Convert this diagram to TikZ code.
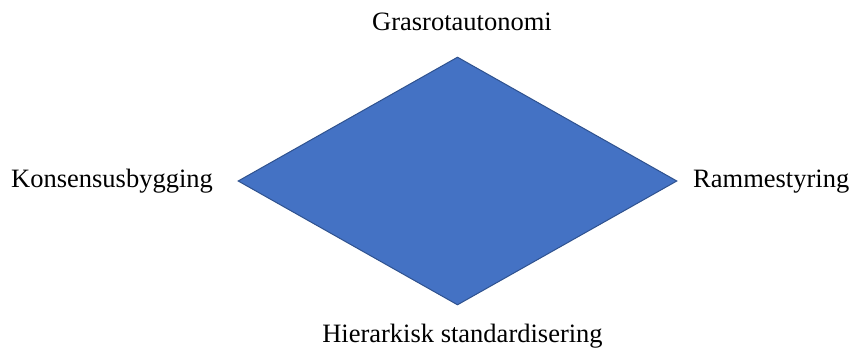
\documentclass[tikz,border=0pt]{standalone}
\usepackage{fontspec}
\setmainfont{Liberation Serif}
\usetikzlibrary{shapes.geometric,positioning}
\definecolor{rombeblue}{RGB}{68,114,196}
\definecolor{rombeedge}{RGB}{47,82,143}

\begin{document}
\begin{tikzpicture}[x=1pt,y=1pt,every node/.style={font=\fontsize{26.5}{30}\selectfont}]
        \useasboundingbox (0,0) rectangle (849,349);
        \node[diamond,draw=rombeedge,fill=rombeblue,line width=1pt,inner sep=0pt,
              minimum width=439pt,minimum height=248pt]
          (rombe) at (457.5,168) {};
        \node[anchor=base] (topp) at (462,319) {Grasrotautonomi};
        \node[anchor=base west,inner sep=0pt] (venstre) at (11,162) {Konsensusbygging};
        \node[anchor=base west,inner sep=0pt] (hoyre) at (693,162) {Rammestyring};
        \node[anchor=base] (bunn) at (462.5,7) {Hierarkisk standardisering};
      \end{tikzpicture}
\end{document}
